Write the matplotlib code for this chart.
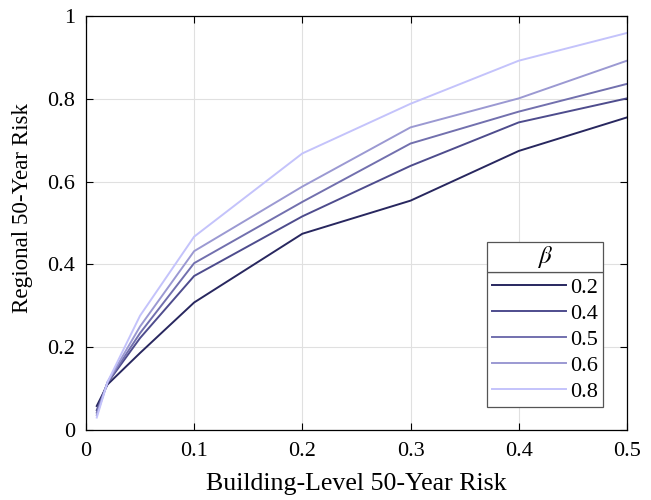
import matplotlib
matplotlib.use('Agg')
import matplotlib.pyplot as plt
from matplotlib.patches import Rectangle
import numpy as np

plt.rcParams['font.family'] = ['Liberation Serif', 'DejaVu Serif']
plt.rcParams['mathtext.fontset'] = 'stix'

# building-level risk (x) and regional risk for each beta
x = [0.01, 0.02, 0.05, 0.1, 0.2, 0.3, 0.4, 0.5]
betas = ['0.2', '0.4', '0.5', '0.6', '0.8']
risk_02 = [0.058, 0.110, 0.186, 0.308, 0.474, 0.554, 0.674, 0.755]
risk_04 = [0.048, 0.114, 0.222, 0.372, 0.516, 0.638, 0.743, 0.801]
risk_05 = [0.042, 0.115, 0.234, 0.403, 0.551, 0.692, 0.769, 0.836]
risk_06 = [0.036, 0.116, 0.250, 0.432, 0.588, 0.731, 0.801, 0.892]
risk_08 = [0.030, 0.116, 0.276, 0.467, 0.668, 0.788, 0.892, 0.959]
series = [risk_02, risk_04, risk_05, risk_06, risk_08]
colors = ['#28275f', '#4e4c8d', '#7270ae', '#9b99d2', '#c4c3fb']

fig = plt.figure(figsize=(6.51, 5.0), dpi=100)
ax = fig.add_axes([0.132, 0.14, 0.831, 0.828])

for vals, c, b in zip(series, colors, betas):
    ax.plot(x, vals, color=c, lw=1.4, label=b)

ax.set_xlim(0, 0.5)
ax.set_ylim(0, 1)
ax.set_xticks([0, 0.1, 0.2, 0.3, 0.4, 0.5])
ax.set_xticklabels(['0', '0.1', '0.2', '0.3', '0.4', '0.5'])
ax.set_yticks([0, 0.2, 0.4, 0.6, 0.8, 1])
ax.set_yticklabels(['0', '0.2', '0.4', '0.6', '0.8', '1'])
ax.grid(True, color='#e0e0e0', lw=0.8)
ax.tick_params(direction='in', top=True, right=True, labelsize=16, length=5)
ax.tick_params(axis='x', pad=9)
ax.tick_params(axis='y', pad=8)
for s in ax.spines.values():
    s.set_linewidth(0.9)
ax.set_xlabel('Building-Level 50-Year Risk', fontsize=18.6)
ax.set_ylabel('Regional 50-Year Risk', fontsize=16.6)
ax.xaxis.set_label_coords(0.5, -0.103)
ax.yaxis.set_label_coords(-0.098, 0.537)

leg = ax.legend(loc='lower right', bbox_to_anchor=(0.9556, 0.0556), borderaxespad=0,
                fontsize=16, fancybox=False, framealpha=1, edgecolor='#555555',
                handlelength=3.3, handletextpad=0.18, labelspacing=0.24,
                borderpad=0.24)
leg.get_frame().set_linewidth(0.9)

# title box for the legend (beta), stacked on top of the entries
fig.canvas.draw()
r = fig.canvas.get_renderer()
lb = leg.get_frame().get_window_extent(r)
inv = ax.transAxes.inverted()
(ax0, ay0), (ax1, ay1) = inv.transform([(lb.x0, lb.y1), (lb.x1, lb.y1 + 30)])
ax.add_patch(Rectangle((ax0, ay0), ax1 - ax0, ay1 - ay0, transform=ax.transAxes,
                       facecolor='white', edgecolor='#555555', lw=0.9, zorder=6,
                       clip_on=False))
ax.text((ax0 + ax1) / 2, (ay0 + ay1) / 2, r'$\beta$', transform=ax.transAxes,
        ha='center', va='center', fontsize=18, zorder=7)

fig.savefig('out.png', dpi=100)
